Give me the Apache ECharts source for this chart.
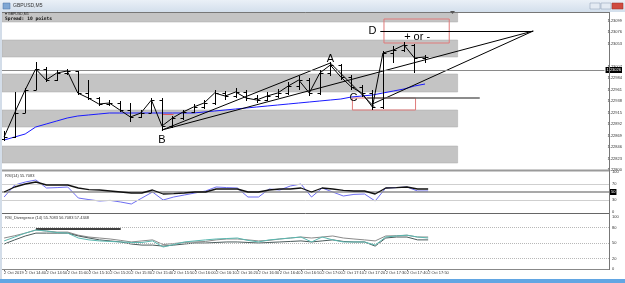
<!DOCTYPE html>
<html><head><meta charset="utf-8">
<script src="https://cdn.jsdelivr.net/npm/echarts@6/dist/echarts.min.js"></script>
<style>html,body{margin:0;padding:0;background:#fff;overflow:hidden}#c{width:625px;height:283px}</style>
</head><body><div id="c"></div>
<script>
// ---- data ----
const timeLabels = ['2 Oct 2019','2 Oct 14:40','2 Oct 14:50','2 Oct 15:00','2 Oct 15:10','2 Oct 15:20','2 Oct 15:30','2 Oct 15:40','2 Oct 15:50','2 Oct 16:00','2 Oct 16:10','2 Oct 16:20','2 Oct 16:30','2 Oct 16:40','2 Oct 16:50','2 Oct 17:00','2 Oct 17:10','2 Oct 17:20','2 Oct 17:30','2 Oct 17:40','2 Oct 17:50'];
const opens  = [1.22862,1.22866,1.22914,1.22960,1.23002,1.22980,1.22994,1.22998,1.22954,1.22944,1.22932,1.22934,1.22920,1.22906,1.22914,1.22940,1.22888,1.22904,1.22916,1.22926,1.22934,1.22954,1.22948,1.22956,1.22944,1.22940,1.22948,1.22954,1.22968,1.22980,1.22954,1.22994,1.23010,1.22986,1.22966,1.22954,1.22926,1.23034,1.23040,1.23050,1.23024];
const highs  = [1.22878,1.22956,1.22964,1.23016,1.23006,1.23000,1.23002,1.22998,1.22980,1.22946,1.22940,1.22938,1.22934,1.22920,1.22944,1.22944,1.22908,1.22920,1.22932,1.22940,1.22960,1.22958,1.22964,1.22960,1.22950,1.22956,1.22962,1.22976,1.22988,1.22984,1.23000,1.23016,1.23012,1.22990,1.22970,1.22960,1.23038,1.23048,1.23056,1.23052,1.23030];
const lows   = [1.22858,1.22864,1.22914,1.22960,1.22976,1.22978,1.22990,1.22950,1.22940,1.22928,1.22928,1.22916,1.22896,1.22904,1.22914,1.22878,1.22884,1.22900,1.22914,1.22922,1.22930,1.22940,1.22944,1.22938,1.22934,1.22938,1.22944,1.22950,1.22960,1.22948,1.22950,1.22988,1.22980,1.22960,1.22946,1.22920,1.22922,1.23014,1.23036,1.22994,1.23014];
const closes = [1.22866,1.22914,1.22960,1.23002,1.22980,1.22994,1.22998,1.22954,1.22944,1.22932,1.22934,1.22920,1.22906,1.22914,1.22940,1.22888,1.22904,1.22916,1.22926,1.22934,1.22954,1.22948,1.22956,1.22944,1.22940,1.22948,1.22954,1.22968,1.22980,1.22954,1.22994,1.23010,1.22986,1.22966,1.22954,1.22926,1.23034,1.23040,1.23050,1.23024,1.23026];
const movingAvg = [1.22860,1.22866,1.22872,1.22886,1.22892,1.22898,1.22904,1.22908,1.22910,1.22912,1.22914,1.22914,1.22914,1.22914,1.22914,1.22914,1.22914,1.22914,1.22914,1.22916,1.22918,1.22920,1.22922,1.22924,1.22926,1.22928,1.22930,1.22932,1.22934,1.22936,1.22938,1.22940,1.22942,1.22946,1.22948,1.22950,1.22954,1.22958,1.22962,1.22968,1.22972];
const rsiSmooth = [50,62.5,70,75,67.5,67.5,67.5,60,56,55,52.5,50,47.5,47.5,55,45,46,47.5,50,50,57.5,57.5,57.5,50,50,55,57.5,57.5,60,50,60,57.5,54,52.5,52.5,45,60,61,62.5,57.5,57.5];
const rsiRaw = [37.5,67.5,75,80,60,61,62.5,35,31,27.5,29,25,20,35,50,30,37.5,42.5,47.5,52.5,62.5,61,60,37.5,37.5,57.5,55,65,70,37.5,60,50,40,44,45,27.5,60,61,62.5,52.5,52.5];
const divTeal = [54,61.5,69,75,73,70,69,59.6,56,54,53,52,51,51,54,42.3,47,52,54,56,57.7,58.6,59.6,55,52,56,57.7,59.6,61.5,52,61.5,56,52,52,52,46,61.5,63.5,65,61.5,59.6];
const divGray = [59.6,64,69,75,73,71,71,65,61.5,59.6,57.7,55,52,54,56,47,49,51,52,53,56,57.7,57.7,56,54,55,57.7,59.6,61.5,59.6,61.5,63.5,59.6,57.7,56,54,63.5,64,65,61.5,61.5];
const divDark = [48,56,63.5,69,69,69,69,63.5,59.6,56,54,52,48,46,46,44,46,48,50,50,51,52,52,51,50,51,52,53,54,52,54,56,53,52,52,44,59.6,61.5,61.5,56,56];
const priceTicks = [1.22800,1.22823,1.22846,1.22869,1.22892,1.22915,1.22938,1.22961,1.22984,1.23007,1.23053,1.23076,1.23099];
const rsiTicks = [0,30,70,100];
const divTicks = [0,20,50,80,100];
const bandRanges = [[1.23096,1.23116],[1.23026,1.23060],[1.22956,1.22992],[1.22886,1.22920],[1.22814,1.22848]];
const currentPrice = 1.23026;
const pointB = [15,1.22880], pointA = [31,1.23014], pointC = [35.2,1.22926], pointC2 = [35,1.22932], apex = [50.28,1.23078];
const levelD = 1.23078, levelC = 1.22944;

// ---- chart ----
const chart = echarts.init(document.getElementById('c'));
const X_MIN = -0.2, X_MAX = 57.06;
const pair = arr => arr.map((v,i)=>[i,v]);
const labelTickVals = timeLabels.map((_,k)=>2*k);
const F = 'Liberation Sans, Arial, sans-serif';
const blk = {color:'#000', width:1, type:'solid'};

const xAx = (g, show) => ({type:'value', gridIndex:g, min:X_MIN, max:X_MAX, show:show,
  splitLine:{show:false}, axisLine:{show:false},
  axisTick:{show:show, customValues:labelTickVals, length:2, lineStyle:{color:'#666'}},
  axisLabel:{show:show, customValues:labelTickVals, fontSize:4, color:'#333', margin:2, align:'left', fontFamily:F,
    formatter:v=>timeLabels[Math.round(v/2)]||''}});
const yAx = (g, min, max, ticks, fmt) => ({type:'value', gridIndex:g, min:min, max:max, position:'right',
  splitLine:{show:false}, axisLine:{show:false},
  axisTick:{show:false},
  axisLabel:{customValues:ticks, fontSize:4, color:'#333', margin:3, fontFamily:F, formatter:fmt}});

const option = {
  animation:false,
  backgroundColor:'#fff',
  grid:[
    {left:2, top:12, width:607, height:158},
    {left:2, top:172, width:607, height:40},
    {left:2, top:217, width:607, height:52}
  ],
  xAxis:[xAx(0,false), xAx(1,false), xAx(2,true)],
  yAxis:[
    yAx(0,1.22800,1.23116,priceTicks,v=>v.toFixed(5)),
    yAx(1,0,100,rsiTicks,v=>String(v)),
    yAx(2,0,100,divTicks,v=>String(v))
  ],
  series:[
    {type:'line', name:'bands', xAxisIndex:0, yAxisIndex:0, data:[], z:1, silent:true,
     markArea:{silent:true, itemStyle:{color:'#c4c4c4', borderColor:'#aaa', borderWidth:0.5},
       data: bandRanges.map(r=>[{xAxis:X_MIN, yAxis:r[1]},{xAxis:43.1, yAxis:r[0]}]).concat([
         [{xAxis:36.1, yAxis:1.23102, itemStyle:{color:'rgba(0,0,0,0)', borderColor:'#e07a7a', borderWidth:1}},{xAxis:42.3, yAxis:1.23054}],
         [{xAxis:33.1, yAxis:1.22944, itemStyle:{color:'rgba(0,0,0,0)', borderColor:'#e07a7a', borderWidth:1}},{xAxis:39.1, yAxis:1.22920}]
       ])}},
    {type:'line', name:'MA', xAxisIndex:0, yAxisIndex:0, data:pair(movingAvg), showSymbol:false, z:3,
     lineStyle:{color:'#1a1aff', width:1}},
    {type:'line', name:'close', xAxisIndex:0, yAxisIndex:0, data:pair(closes), showSymbol:false, z:5,
     lineStyle:{color:'#000', width:1},
     markLine:{silent:true, symbol:['none','none'], label:{show:false}, lineStyle:blk,
       data:[
         [{coord:pointB},{coord:pointA}],
         [{coord:pointA},{coord:pointC}],
         [{coord:pointB},{coord:apex}],
         [{coord:pointC2},{coord:apex}],
         [{coord:[35.75,levelD]},{coord:apex}],
         [{coord:[34.5,levelC], lineStyle:{color:'#666', width:1.6}},{coord:[45.2,levelC]}],
         [{coord:[15,1.22912], lineStyle:{color:'#e05a5a', width:1}},{coord:[16.1,1.22912]}],
         {yAxis:currentPrice, lineStyle:{color:'#8a8a8a', width:1},
          label:{show:true, position:'end', distance:1, formatter:currentPrice.toFixed(5), color:'#fff', backgroundColor:'#000', fontSize:4, padding:[1,1], fontFamily:F}}
       ]},
     markPoint:{silent:true, symbol:'circle', symbolSize:1, itemStyle:{color:'rgba(0,0,0,0)'},
       label:{show:true, position:'inside', color:'#000', fontSize:11, fontFamily:F},
       data:[
         {coord:[31,1.23022], value:'A', label:{formatter:'A'}},
         {coord:[15,1.22860], value:'B', label:{formatter:'B'}},
         {coord:[33.2,1.22944], value:'C', label:{formatter:'C'}},
         {coord:[35.0,1.23078], value:'D', label:{formatter:'D'}},
         {coord:[39.25,1.23066], value:'+ or -', label:{formatter:'+ or -'}}
       ]}},
    {type:'custom', name:'ohlc', xAxisIndex:0, yAxisIndex:0, z:6,
     data: opens.map((o,i)=>[i,o,highs[i],lows[i],closes[i]]),
     encode:{x:0, y:[1,2,3,4]},
     renderItem:(params, api)=>{
       const i = api.value(0);
       const pO = api.coord([i, api.value(1)]);
       const pH = api.coord([i, api.value(2)]);
       const pL = api.coord([i, api.value(3)]);
       const pC = api.coord([i, api.value(4)]);
       const x = Math.round(pH[0]) + 0.5;
       const yo = Math.round(pO[1]) + 0.5, yc = Math.round(pC[1]) + 0.5;
       const st = {stroke:'#000', lineWidth:1};
       return {type:'group', children:[
         {type:'line', shape:{x1:x, y1:Math.round(pH[1]), x2:x, y2:Math.round(pL[1])}, style:st},
         {type:'line', shape:{x1:x-3, y1:yo, x2:x, y2:yo}, style:st},
         {type:'line', shape:{x1:x, y1:yc, x2:x+3, y2:yc}, style:st}
       ]};
     }},
    {type:'line', name:'RSI raw', xAxisIndex:1, yAxisIndex:1, data:pair(rsiRaw), showSymbol:false, z:4,
     lineStyle:{color:'#6e6ef2', width:1}},
    {type:'line', name:'RSI', xAxisIndex:1, yAxisIndex:1, data:pair(rsiSmooth), showSymbol:false, z:5,
     lineStyle:{color:'#111', width:1.3},
     markLine:{silent:true, symbol:['none','none'], label:{show:false},
       data:[
         {yAxis:70, lineStyle:{color:'#cfcfcf', width:1, type:'solid'}},
         {yAxis:30, lineStyle:{color:'#cfcfcf', width:1, type:'solid'}},
         {yAxis:50, lineStyle:{color:'#8c8c8c', width:1.5, type:'solid'},
          label:{show:true, position:'end', distance:1, formatter:'50', color:'#fff', backgroundColor:'#000', fontSize:4, padding:[1,1], fontFamily:F}}
       ]}},
    {type:'line', name:'div gray', xAxisIndex:2, yAxisIndex:2, data:pair(divGray), showSymbol:false, z:4,
     lineStyle:{color:'#8a8a8a', width:1}},
    {type:'line', name:'div dark', xAxisIndex:2, yAxisIndex:2, data:pair(divDark), showSymbol:false, z:4,
     lineStyle:{color:'#4a5a5a', width:1}},
    {type:'line', name:'div teal', xAxisIndex:2, yAxisIndex:2, data:pair(divTeal), showSymbol:false, z:5,
     lineStyle:{color:'#5ab8b0', width:1},
     markLine:{silent:true, symbol:['none','none'], label:{show:false},
       data:[
         {yAxis:80, lineStyle:{color:'#b8b8b8', width:1, type:'dotted'}},
         {yAxis:50, lineStyle:{color:'#b8b8b8', width:1, type:'dotted'}},
         {yAxis:20, lineStyle:{color:'#b8b8b8', width:1, type:'dotted'}},
         [{coord:[3,77], lineStyle:{color:'#000', width:1.5, type:'solid'}},{coord:[11,77]}]
       ]}}
  ],
  graphic:[
    {type:'rect', z:100, shape:{x:0,y:0,width:625,height:12},
     style:{fill:new echarts.graphic.LinearGradient(0,0,0,1,[{offset:0,color:'#eaf0f7'},{offset:1,color:'#d3dfec'}])}},
    {type:'rect', z:101, shape:{x:3,y:3,width:7,height:6}, style:{fill:'#7fa7d4', stroke:'#4b73a6', lineWidth:0.5}},
    {type:'text', z:101, x:13, y:3, style:{text:'GBPUSD,M5', fontSize:5, fill:'#333', fontFamily:F}},
    {type:'rect', z:101, shape:{x:590,y:3,width:10,height:6}, style:{fill:'#e4ebf3', stroke:'#8a9bb0', lineWidth:0.5}},
    {type:'rect', z:101, shape:{x:601,y:3,width:10,height:6}, style:{fill:'#e4ebf3', stroke:'#8a9bb0', lineWidth:0.5}},
    {type:'rect', z:101, shape:{x:612,y:3,width:11,height:6}, style:{fill:'#cf4b3f', stroke:'#9a2f25', lineWidth:0.5}},
    {type:'rect', z:100, shape:{x:0,y:12,width:2,height:268}, style:{fill:'#d3dde9'}},
    {type:'rect', z:100, shape:{x:0,y:279,width:625,height:4}, style:{fill:'#62a6e3'}},
    {type:'line', z:100, shape:{x1:2,y1:12.5,x2:609,y2:12.5}, style:{stroke:'#777', lineWidth:1}},
    {type:'line', z:100, shape:{x1:2,y1:170.5,x2:609,y2:170.5}, style:{stroke:'#9a9a9a', lineWidth:2}},
    {type:'line', z:100, shape:{x1:2,y1:213.5,x2:609,y2:213.5}, style:{stroke:'#666', lineWidth:1}},
    {type:'line', z:100, shape:{x1:2,y1:269.5,x2:609,y2:269.5}, style:{stroke:'#888', lineWidth:1}},
    {type:'line', z:100, shape:{x1:609.5,y1:12,x2:609.5,y2:270}, style:{stroke:'#777', lineWidth:1}},
    {type:'polygon', z:100, shape:{points:[[450,11],[455,11],[452.5,14]]}, style:{fill:'#555'}},
    {type:'text', z:100, x:5, y:12.5, style:{text:'\u25BE GBPUSD,M5', fontSize:3.5, fill:'#222', fontFamily:F}},
    {type:'text', z:100, x:5, y:16.5, style:{text:'Spread: 10 points', fontSize:4.6, fill:'#111', fontWeight:'bold', fontFamily:'DejaVu Sans Mono, monospace'}},
    {type:'text', z:100, x:5, y:174, style:{text:'RSI(14) 55.7083', fontSize:4, fill:'#333', fontFamily:F}},
    {type:'text', z:100, x:5, y:216, style:{text:'RSI_Divergence (14) 55.7083 56.7083 57.4348', fontSize:4, fill:'#333', fontFamily:F}}
  ]
};
chart.setOption(option);
</script></body></html>
